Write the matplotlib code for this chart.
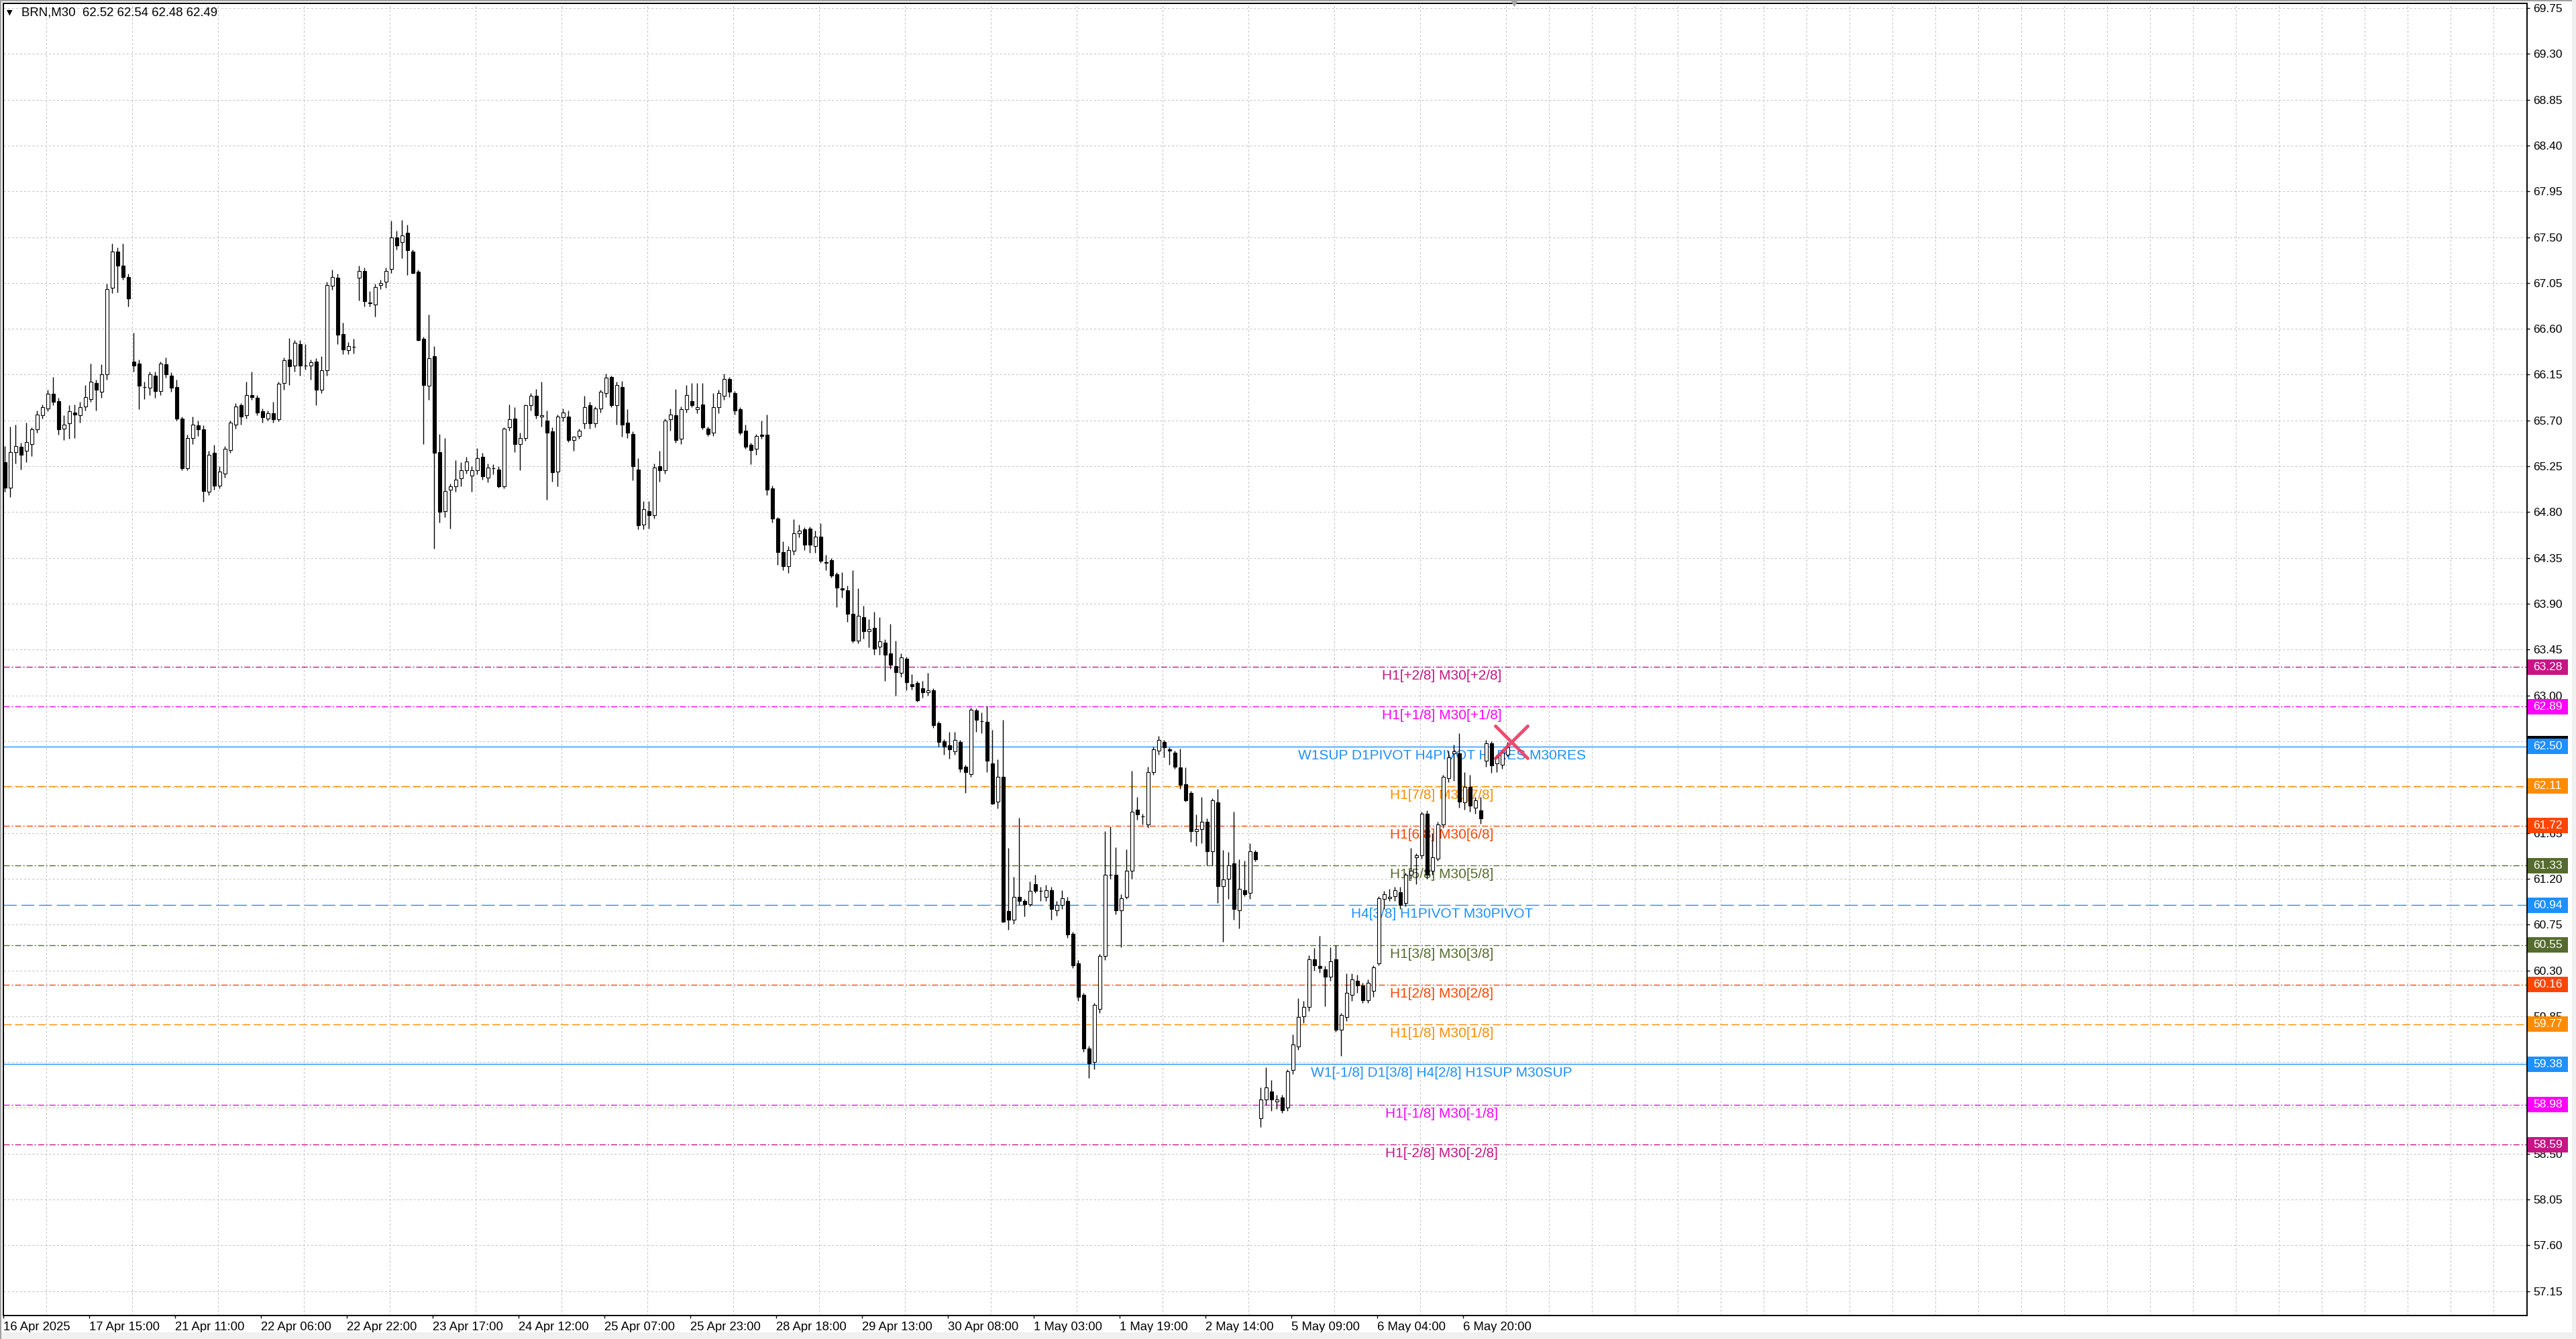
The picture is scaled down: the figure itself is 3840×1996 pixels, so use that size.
import numpy as np
import matplotlib
matplotlib.use("Agg")
import matplotlib.pyplot as plt
from matplotlib.patches import Rectangle
from matplotlib.markers import MarkerStyle
import matplotlib.transforms as mtransforms

plt.rcParams['font.family'] = ['Liberation Sans', 'DejaVu Sans']
plt.rcParams['lines.scale_dashes'] = False

# ---------------- data ----------------
symbol = "BRN,M30"
last_ohlc = [62.52, 62.54, 62.48, 62.49]
bid_price = 62.49

# hourly aggregation of the M30 candles (each candle = 2 M30 bars)
opens = [
    65.29, 65.04, 65.39, 65.44, 65.40, 65.47, 65.61, 65.75, 65.82, 65.96,
    65.89, 65.62, 65.67, 65.78, 65.75, 65.84, 65.91, 66.07, 65.98, 66.15,
    67.00, 67.36, 67.22, 67.11, 66.28, 66.26, 66.03, 66.02, 66.14, 65.99,
    66.25, 66.14, 66.03, 65.72, 65.23, 65.53, 65.65, 65.61, 65.00, 65.38,
    65.06, 65.18, 65.41, 65.66, 65.85, 65.75, 65.95, 65.92, 65.79, 65.72,
    65.77, 65.71, 66.07, 66.30, 66.24, 66.45, 66.24, 66.24, 66.28, 66.00,
    66.19, 67.02, 67.10, 66.55, 66.39, 66.42, 67.10, 67.17, 66.86, 66.84,
    67.03, 67.06, 67.19, 67.50, 67.45, 67.54, 67.36, 67.16, 66.50, 66.04,
    66.33, 65.39, 64.81, 65.02, 65.05, 65.13, 65.21, 65.16, 65.21, 65.34,
    65.14, 65.23, 65.22, 65.05, 65.63, 65.72, 65.47, 65.53, 65.85, 65.94,
    65.74, 65.70, 65.59, 65.20, 65.73, 65.74, 65.51, 65.55, 65.67, 65.85,
    65.67, 65.82, 65.97, 66.13, 65.85, 66.03, 65.68, 65.57, 65.22, 64.68,
    64.81, 64.77, 65.25, 65.21, 65.71, 65.75, 65.52, 65.81, 65.89, 65.81,
    65.86, 65.62, 65.58, 65.83, 65.94, 66.11, 65.97, 65.81, 65.60, 65.46,
    65.42, 65.56, 65.56, 65.03, 64.74, 64.41, 64.27, 64.42, 64.59, 64.63,
    64.64, 64.47, 64.56, 64.31, 64.33, 64.19, 64.05, 64.03, 63.80, 63.54,
    63.77, 63.63, 63.66, 63.48, 63.52, 63.41, 63.29, 63.22, 63.36, 63.11,
    63.12, 63.07, 63.03, 63.05, 62.73, 62.55, 62.51, 62.45, 62.54, 62.30,
    62.23, 62.85, 62.75, 62.74, 62.33, 61.96, 62.20, 60.88, 60.80, 61.02,
    60.98, 60.95, 61.15, 61.08, 61.02, 61.09, 60.89, 60.94, 60.98, 60.66,
    60.37, 60.06, 59.53, 59.40, 59.92, 60.44, 61.24, 61.24, 60.89, 61.02,
    61.28, 61.88, 61.81, 61.73, 62.25, 62.46, 62.54, 62.47, 62.44, 62.29,
    62.13, 62.04, 61.67, 61.69, 61.76, 61.47, 61.95, 61.13, 61.20, 61.35,
    60.89, 61.09, 61.06, 61.46, 58.85, 59.03, 59.11, 59.01, 59.05, 58.95,
    59.32, 59.55, 59.85, 59.94, 60.41, 60.34, 60.31, 60.24, 60.41, 59.72,
    59.84, 60.06, 60.20, 60.15, 60.01, 60.10, 60.37, 61.00, 61.01, 61.03,
    61.07, 60.96, 61.24, 61.41, 61.43, 61.84, 61.28, 61.40, 61.73, 62.19,
    62.43, 62.43, 61.95, 62.10, 61.90, 61.87, 62.36, 62.53, 62.33, 62.32,
    62.42,
]
highs = [
    65.45, 65.64, 65.66, 65.48, 65.68, 65.63, 65.80, 65.86, 66.00, 66.13,
    65.92, 65.75, 65.85, 65.86, 65.88, 66.05, 66.26, 66.10, 66.25, 67.04,
    67.44, 67.40, 67.44, 67.14, 66.56, 66.30, 66.08, 66.18, 66.18, 66.28,
    66.32, 66.17, 66.10, 65.74, 65.56, 65.74, 65.70, 65.65, 65.40, 65.46,
    65.25, 65.45, 65.70, 65.87, 65.87, 66.08, 66.18, 65.95, 65.82, 65.80,
    65.88, 66.08, 66.32, 66.51, 66.49, 66.49, 66.45, 66.30, 66.31, 66.33,
    67.06, 67.18, 67.14, 66.66, 66.47, 66.50, 67.22, 67.20, 66.97, 67.04,
    67.08, 67.20, 67.66, 67.56, 67.67, 67.62, 67.38, 67.18, 66.52, 66.74,
    66.43, 65.57, 65.53, 65.08, 65.31, 65.29, 65.34, 65.25, 65.43, 65.38,
    65.28, 65.27, 65.25, 65.63, 65.86, 65.83, 65.58, 65.86, 65.97, 66.01,
    66.08, 65.80, 65.63, 65.76, 65.82, 65.80, 65.55, 65.62, 65.94, 65.88,
    65.84, 66.00, 66.16, 66.14, 66.08, 66.09, 65.81, 65.59, 65.33, 64.91,
    64.91, 65.28, 65.40, 65.72, 65.82, 66.01, 65.84, 66.05, 66.07, 66.07,
    66.07, 65.64, 65.97, 66.00, 66.16, 66.13, 65.99, 65.83, 65.66, 65.48,
    65.57, 65.70, 65.76, 65.06, 64.75, 64.51, 64.47, 64.73, 64.68, 64.65,
    64.66, 64.62, 64.69, 64.38, 64.35, 64.21, 64.21, 64.08, 64.23, 64.05,
    63.88, 63.75, 63.82, 63.77, 63.55, 63.70, 63.54, 63.41, 63.38, 63.21,
    63.14, 63.14, 63.22, 63.07, 62.75, 62.57, 62.64, 62.64, 62.56, 62.32,
    62.88, 62.87, 62.83, 62.90, 62.66, 62.37, 62.76, 61.50, 61.22, 61.80,
    61.00, 61.17, 61.24, 61.12, 61.14, 61.12, 60.98, 61.09, 61.02, 60.68,
    60.40, 60.08, 59.56, 59.98, 60.46, 61.67, 61.71, 61.51, 61.05, 61.49,
    62.26, 62.00, 61.84, 62.30, 62.50, 62.60, 62.56, 62.49, 62.46, 62.48,
    62.29, 62.06, 61.83, 62.00, 61.79, 61.99, 62.08, 61.48, 61.46, 61.86,
    61.39, 61.38, 61.55, 61.48, 59.15, 59.35, 59.22, 59.08, 59.08, 59.33,
    59.67, 60.03, 60.00, 60.45, 60.52, 60.64, 60.34, 60.53, 60.55, 59.88,
    60.27, 60.27, 60.26, 60.18, 60.21, 60.35, 61.03, 61.08, 61.10, 61.12,
    61.12, 61.26, 61.50, 61.45, 61.86, 61.87, 61.65, 61.76, 62.22, 62.46,
    62.52, 62.63, 62.25, 62.22, 62.00, 62.00, 62.56, 62.55, 62.42, 62.46,
    62.54,
]
lows = [
    65.00, 64.95, 65.28, 65.22, 65.29, 65.35, 65.58, 65.72, 65.79, 65.85,
    65.56, 65.51, 65.52, 65.53, 65.68, 65.80, 65.88, 65.80, 65.92, 66.10,
    66.95, 66.96, 67.08, 66.82, 66.18, 65.81, 65.91, 65.95, 65.92, 65.95,
    66.12, 65.98, 65.70, 65.21, 65.21, 65.47, 65.55, 64.90, 64.97, 65.02,
    65.03, 65.14, 65.38, 65.62, 65.66, 65.72, 65.90, 65.75, 65.68, 65.70,
    65.68, 65.69, 66.00, 66.05, 66.18, 66.14, 66.20, 66.10, 65.85, 65.97,
    66.14, 66.98, 66.45, 66.35, 66.35, 66.36, 66.88, 66.82, 66.82, 66.72,
    66.99, 67.00, 67.15, 67.38, 67.29, 67.13, 67.14, 66.48, 65.47, 65.90,
    64.44, 64.70, 64.75, 64.64, 65.00, 65.05, 65.18, 65.00, 65.17, 65.12,
    65.09, 65.17, 65.04, 65.03, 65.60, 65.39, 65.21, 65.50, 65.80, 65.72,
    65.64, 64.92, 65.10, 65.05, 65.69, 65.49, 65.40, 65.52, 65.62, 65.62,
    65.63, 65.78, 65.93, 65.83, 65.66, 65.54, 65.53, 65.11, 64.63, 64.63,
    64.64, 64.74, 65.10, 65.18, 65.60, 65.48, 65.47, 65.78, 65.83, 65.77,
    65.61, 65.55, 65.55, 65.77, 65.90, 65.93, 65.76, 65.56, 65.42, 65.27,
    65.36, 65.52, 64.97, 64.70, 64.28, 64.23, 64.20, 64.38, 64.55, 64.43,
    64.40, 64.40, 64.30, 64.23, 64.16, 63.87, 63.96, 63.72, 63.52, 63.51,
    63.56, 63.47, 63.40, 63.40, 63.14, 63.26, 63.00, 63.18, 63.05, 63.06,
    62.94, 62.98, 63.00, 62.68, 62.50, 62.42, 62.38, 62.42, 62.25, 62.04,
    62.20, 62.64, 62.63, 62.25, 61.93, 61.89, 60.77, 60.70, 60.76, 60.94,
    60.83, 60.93, 61.06, 60.98, 60.98, 60.80, 60.84, 60.90, 60.62, 60.32,
    60.00, 59.50, 59.24, 59.33, 59.88, 60.40, 61.20, 60.85, 60.53, 61.00,
    61.20, 61.78, 61.73, 61.70, 62.22, 62.42, 62.39, 62.32, 62.28, 62.08,
    61.96, 61.56, 61.52, 61.55, 61.33, 61.33, 60.96, 60.58, 61.00, 60.80,
    60.71, 61.03, 61.00, 61.37, 58.76, 58.98, 58.92, 58.94, 58.90, 58.92,
    59.28, 59.52, 59.78, 59.90, 60.30, 60.28, 59.95, 60.20, 59.70, 59.46,
    59.80, 60.00, 60.08, 59.98, 59.98, 60.04, 60.35, 60.90, 60.98, 60.98,
    60.90, 60.93, 61.20, 61.15, 61.40, 61.20, 61.24, 61.38, 61.70, 62.15,
    62.16, 61.90, 61.88, 61.86, 61.84, 61.74, 62.30, 62.24, 62.25, 62.28,
    62.40,
]
closes = [
    65.04, 65.39, 65.45, 65.36, 65.49, 65.61, 65.76, 65.83, 65.96, 65.88,
    65.61, 65.66, 65.79, 65.76, 65.83, 65.93, 66.08, 66.00, 66.15, 66.99,
    67.36, 67.22, 67.11, 66.90, 66.24, 66.04, 66.03, 66.15, 65.99, 66.26,
    66.15, 66.02, 65.72, 65.23, 65.53, 65.66, 65.61, 65.01, 65.36, 65.06,
    65.20, 65.42, 65.68, 65.84, 65.74, 65.95, 65.93, 65.78, 65.73, 65.77,
    65.71, 66.06, 66.29, 66.23, 66.46, 66.24, 66.24, 66.27, 66.00, 66.19,
    67.03, 67.11, 66.54, 66.40, 66.43, 66.42, 67.17, 66.87, 66.85, 67.01,
    67.05, 67.17, 67.50, 67.42, 67.52, 67.37, 67.15, 66.49, 66.05, 66.31,
    65.38, 64.80, 65.01, 65.05, 65.12, 65.21, 65.30, 65.21, 65.33, 65.15,
    65.24, 65.23, 65.05, 65.62, 65.71, 65.47, 65.53, 65.85, 65.94, 65.75,
    65.75, 65.58, 65.19, 65.74, 65.78, 65.51, 65.54, 65.60, 65.83, 65.67,
    65.82, 65.98, 66.12, 65.85, 66.05, 65.66, 65.58, 65.25, 64.67, 64.83,
    64.77, 65.24, 65.21, 65.70, 65.76, 65.51, 65.81, 65.95, 65.85, 65.83,
    65.63, 65.57, 65.83, 65.97, 66.11, 65.98, 65.80, 65.58, 65.44, 65.41,
    65.55, 65.55, 65.02, 64.74, 64.41, 64.27, 64.43, 64.59, 64.62, 64.48,
    64.48, 64.56, 64.32, 64.30, 64.18, 64.06, 64.04, 63.80, 63.54, 63.78,
    63.63, 63.65, 63.46, 63.53, 63.40, 63.30, 63.23, 63.37, 63.13, 63.09,
    62.95, 63.03, 63.05, 62.71, 62.54, 62.50, 62.47, 62.56, 62.28, 62.25,
    62.86, 62.76, 62.75, 62.36, 61.94, 62.20, 60.78, 60.80, 61.02, 60.98,
    60.95, 61.08, 61.08, 61.08, 61.09, 60.90, 60.94, 61.01, 60.65, 60.35,
    60.04, 59.53, 59.39, 59.96, 60.44, 61.24, 61.24, 60.89, 61.01, 61.28,
    61.86, 61.83, 61.81, 62.25, 62.47, 62.56, 62.49, 62.46, 62.30, 62.12,
    61.97, 61.67, 61.69, 61.76, 61.47, 61.97, 61.13, 61.19, 61.33, 60.90,
    61.10, 61.05, 61.47, 61.39, 59.03, 59.15, 59.03, 59.03, 58.93, 59.31,
    59.57, 59.84, 59.94, 60.41, 60.35, 60.32, 60.24, 60.39, 59.72, 59.86,
    60.08, 60.21, 60.15, 60.01, 60.18, 60.33, 61.01, 61.05, 61.02, 61.09,
    60.94, 61.24, 61.28, 61.43, 61.84, 61.24, 61.41, 61.73, 62.20, 62.39,
    62.45, 61.96, 62.10, 61.92, 61.97, 61.79, 62.53, 62.31, 62.39, 62.44,
    62.49,
]

time_labels = [
    "16 Apr 2025", "17 Apr 15:00", "21 Apr 11:00", "22 Apr 06:00",
    "22 Apr 22:00", "23 Apr 17:00", "24 Apr 12:00", "25 Apr 07:00",
    "25 Apr 23:00", "28 Apr 18:00", "29 Apr 13:00", "30 Apr 08:00",
    "1 May 03:00", "1 May 19:00", "2 May 14:00", "5 May 09:00",
    "6 May 04:00", "6 May 20:00",
]

level_prices = [63.28, 62.89, 62.50, 62.11, 61.72, 61.33, 60.94,
                60.55, 60.16, 59.77, 59.38, 58.98, 58.59]
level_names = [
    "H1[+2/8] M30[+2/8]",
    "H1[+1/8] M30[+1/8]",
    "W1SUP D1PIVOT H4PIVOT H1RES M30RES",
    "H1[7/8] M30[7/8]",
    "H1[6/8] M30[6/8]",
    "H1[5/8] M30[5/8]",
    "H4[3/8] H1PIVOT M30PIVOT",
    "H1[3/8] M30[3/8]",
    "H1[2/8] M30[2/8]",
    "H1[1/8] M30[1/8]",
    "W1[-1/8] D1[3/8] H4[2/8] H1SUP M30SUP",
    "H1[-1/8] M30[-1/8]",
    "H1[-2/8] M30[-2/8]",
]
level_colors = ["#C71585", "#FF00FF", "#1E90FF", "#FF8C00", "#FF4500",
                "#556B2F", "#1E90FF", "#556B2F", "#FF4500", "#FF8C00",
                "#1E90FF", "#FF00FF", "#C71585"]
level_kinds = ["dashdot", "dashdot", "solid", "dash", "dashdot", "dashdot",
               "longdash", "dashdot", "dashdot", "dash", "solid",
               "dashdot", "dashdot"]

cross_bar, cross_price = 562, 62.54
shift_marker_bar = 563

# ---------------- style / layout ----------------
W, H = 3840, 1996
BARS_PER_CANDLE = 2
BARS_PER_LABEL = 32
GRID_STEP = 16
LABEL_BAR = 536
dash_styles = {
    "solid": "-",
    "dashdot": (0, (6.5, 2.2, 1.4, 2.2)),
    "dash": (0, (8.6, 3.6)),
    "longdash": (0, (14.0, 5.0)),
}

fig = plt.figure(figsize=(W / 100, H / 100), dpi=100)
fig.patch.set_facecolor("white")
ax_l, ax_r, ax_t, ax_b = 5, 3767, 5, 1961
ax = fig.add_axes([ax_l / W, 1 - ax_b / H, (ax_r - ax_l) / W, (ax_b - ax_t) / H])
ax.set_facecolor("white")
ax.set_xlim(-0.075, 940.425)
ax.set_ylim(56.911, 69.796)
ax.set_axisbelow(True)

# grid
price_ticks = np.round(np.arange(57.15, 69.751, 0.45), 2)
ax.set_yticks(price_ticks)
ax.set_yticklabels([f"{t:.2f}" for t in price_ticks])
ax.set_xticks(np.arange(len(time_labels)) * BARS_PER_LABEL)
ax.set_xticklabels(time_labels, ha="left")
ax.set_xticks(np.arange(GRID_STEP, 940, GRID_STEP), minor=True)
grid_kw = dict(color="#c4c4c4", linewidth=0.75, linestyle=(0, (2.2, 2.2)))
ax.grid(True, which="minor", axis="x", **grid_kw)
ax.grid(True, which="major", axis="y", **grid_kw)

ax.yaxis.tick_right()
ax.tick_params(axis="y", which="major", length=3, width=1, pad=3.6,
               labelsize=12.5, colors="black", direction="out")
ax.tick_params(axis="x", which="major", length=3, width=1, pad=3.6,
               labelsize=13.3, colors="black", direction="out")
ax.tick_params(axis="x", which="minor", length=0)
for sp in ax.spines.values():
    sp.set_linewidth(1.4)
    sp.set_color("black")

# level lines and labels
below = mtransforms.offset_copy(ax.transData, fig=fig, x=0, y=-4, units="dots")
for p, name, col, kind in zip(level_prices, level_names, level_colors, level_kinds):
    ax.axhline(p, color=col, linewidth=1.0, linestyle=dash_styles[kind], zorder=2)
    ax.text(LABEL_BAR, p, name, color=col, fontsize=15, ha="center", va="top",
            transform=below, zorder=2.5, family=["Liberation Sans", "DejaVu Sans"])

# candles
o = np.array(opens); h = np.array(highs); l = np.array(lows); c = np.array(closes)
x = np.arange(len(o)) * BARS_PER_CANDLE + 0.5
ax.vlines(x, l, h, color="black", linewidth=1.0, zorder=3)
up = c >= o
ax.bar(x[up], c[up] - o[up], bottom=o[up], width=1.4, facecolor="white",
       edgecolor="black", linewidth=0.8, zorder=4)
ax.bar(x[~up], o[~up] - c[~up], bottom=c[~up], width=1.4, facecolor="black",
       edgecolor="black", linewidth=0.8, zorder=4)

# cross marker
ax.plot([cross_bar], [cross_price], linestyle="none",
        marker=MarkerStyle("x", capstyle="round"), markersize=34,
        markeredgewidth=3.6, color="#e8365f", alpha=0.88, zorder=8)

# chart shift marker at top
trans_top = mtransforms.blended_transform_factory(ax.transData, ax.transAxes)
ax.plot([shift_marker_bar], [1.0], marker="v", markersize=6, color="#a8a8a8",
        transform=trans_top, clip_on=False, zorder=9, linestyle="none")

# price boxes on the right axis
px_per_price = (ax_b - ax_t) / (69.796 - 56.911)
box_h = 23 / px_per_price
strip_h = 4 / px_per_price
trans_box = mtransforms.blended_transform_factory(ax.transAxes, ax.transData)
bx0 = (3768 - ax_l) / (ax_r - ax_l)
bx1 = (3828 - ax_l) / (ax_r - ax_l)
tx = (3776 - ax_l) / (ax_r - ax_l)
# bid label: only its top edge peeks out above the 62.50 level box
bid_top = level_prices[2] + box_h / 2 + strip_h
ax.add_patch(Rectangle((bx0, bid_top - box_h), bx1 - bx0, box_h, transform=trans_box,
                       facecolor="black", edgecolor="none", clip_on=False, zorder=5))
for p, col in zip(level_prices, level_colors):
    ax.add_patch(Rectangle((bx0, p - box_h / 2), bx1 - bx0, box_h, transform=trans_box,
                           facecolor=col, edgecolor="none", clip_on=False, zorder=6))
    ax.text(tx, p, f"{p:.2f}", transform=trans_box, color="white", fontsize=12.5,
            ha="left", va="center", clip_on=False, zorder=7)

# header
fig.text(14 / W, 1 - 19 / H, "\u25BC", fontsize=8, family="DejaVu Sans",
         ha="center", va="center", color="black")
header = f"{symbol}  " + " ".join(f"{v:.2f}" for v in last_ohlc)
fig.text(32 / W, 1 - 19 / H, header, fontsize=13.4, ha="left", va="center",
         color="black")

# window border
fig.add_artist(Rectangle((0, 1 - 2 / H), 1, 2 / H, transform=fig.transFigure,
                         facecolor="#a0a0a0", edgecolor="none"))
fig.add_artist(Rectangle((0, 0), 1, 10 / H, transform=fig.transFigure,
                         facecolor="#f0f0f0", edgecolor="none"))
fig.add_artist(Rectangle((1 - 6 / W, 0), 6 / W, 1, transform=fig.transFigure,
                         facecolor="#f0f0f0", edgecolor="none"))
fig.add_artist(Rectangle((0, 0), 1.5 / W, 1, transform=fig.transFigure,
                         facecolor="#a0a0a0", edgecolor="none"))

fig.savefig("out.png", dpi=100, facecolor="white")
